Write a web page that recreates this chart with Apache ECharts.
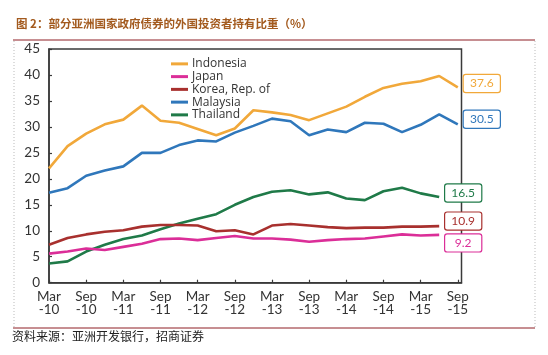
<!DOCTYPE html>
<html>
<head>
<meta charset="utf-8">
<script src="https://cdn.jsdelivr.net/npm/echarts@6/dist/echarts.min.js"></script>
<style>
html,body{margin:0;padding:0;background:#fff;}
#chart{width:548px;height:355px;}
</style>
</head>
<body>
<div id="chart"></div>
<script>
// Quarterly categories (x positions are their indices)
const quarters = ['Mar-10','Jun-10','Sep-10','Dec-10','Mar-11','Jun-11','Sep-11','Dec-11','Mar-12','Jun-12','Sep-12','Dec-12','Mar-13','Jun-13','Sep-13','Dec-13','Mar-14','Jun-14','Sep-14','Dec-14','Mar-15','Jun-15','Sep-15'];
const tickLabels = ['Mar\n-10','Sep\n-10','Mar\n-11','Sep\n-11','Mar\n-12','Sep\n-12','Mar\n-13','Sep\n-13','Mar\n-14','Sep\n-14','Mar\n-15','Sep\n-15'];
const yTicks = [0,5,10,15,20,25,30,35,40,45];

const indonesia = [22.0, 26.3, 28.7, 30.5, 31.4, 34.1, 31.2, 30.8, 29.6, 28.4, 29.7, 33.2, 32.8, 32.3, 31.3, 32.6, 33.9, 35.8, 37.5, 38.3, 38.8, 39.8, 37.6];
const japan     = [5.6, 6.0, 6.6, 6.3, 6.9, 7.5, 8.4, 8.5, 8.2, 8.6, 9.0, 8.5, 8.5, 8.3, 7.9, 8.2, 8.4, 8.5, 8.9, 9.3, 9.1, 9.2];
const korea     = [7.3, 8.6, 9.3, 9.8, 10.1, 10.8, 11.1, 11.1, 11.0, 9.9, 10.1, 9.3, 11.0, 11.3, 11.0, 10.7, 10.5, 10.6, 10.6, 10.8, 10.8, 10.9];
const malaysia  = [17.3, 18.2, 20.6, 21.6, 22.4, 25.0, 25.0, 26.5, 27.4, 27.2, 28.9, 30.2, 31.6, 31.1, 28.4, 29.5, 29.0, 30.8, 30.6, 29.0, 30.4, 32.4, 30.5];
const thailand  = [3.7, 4.1, 6.0, 7.3, 8.4, 9.1, 10.3, 11.4, 12.3, 13.2, 15.0, 16.5, 17.5, 17.8, 17.0, 17.4, 16.2, 15.9, 17.6, 18.3, 17.2, 16.5];

const seriesNames = ['Indonesia','Japan','Korea, Rep. of','Malaysia','Thailand'];
const seriesColors = ['#F1A83A','#DB2E98','#A8302E','#2F77BB','#1F7A48'];
const seriesData = [indonesia, japan, korea, malaysia, thailand];
const labelOffsets = [[18,-4],[18,8],[18,-5],[18,-5],[18,-4]];

const font = 'Lato, "Open Sans", sans-serif';

const chart = echarts.init(document.getElementById('chart'), null, {renderer:'canvas'});

const series = seriesData.map((arr, k) => ({
  name: seriesNames[k],
  type: 'line',
  data: arr.map((v, i) => [i, v]),
  showSymbol: false,
  symbol: 'none',
  lineStyle: {color: seriesColors[k], width: 2.6},
  itemStyle: {color: seriesColors[k]},
  z: 10 - k,
  endLabel: {
    show: true,
    distance: 6,
    align: 'center',
    offset: labelOffsets[k],
    formatter: p => p.value[1].toFixed(1),
    color: seriesColors[k],
    fontFamily: font,
    fontSize: 12,
    width: 26,
    backgroundColor: '#fff',
    borderColor: seriesColors[k],
    borderWidth: 1.2,
    borderRadius: 2,
    padding: [3,5,2,5]
  }
}));

chart.setOption({
  animation: false,
  backgroundColor: '#fff',
  title: {
    text: '图 2：部分亚洲国家政府债券的外国投资者持有比重（%）',
    left: 11, top: 13,
    textStyle: {fontFamily: '"Noto Sans CJK SC", sans-serif', fontSize: 11.5, fontWeight: 'bold', color: '#A35A1E'}
  },
  grid: {
    left: 49, top: 49, right: 86.5, bottom: 72.3,
    show: true, borderColor: '#3a3a3a', borderWidth: 1.5, backgroundColor: 'transparent'
  },
  legend: {
    orient: 'vertical',
    left: 166, top: 52.5,
    itemWidth: 17, itemHeight: 3, itemGap: 0,
    icon: 'rect',
    textStyle: {fontFamily: '"Open Sans", sans-serif', fontSize: 12, color: '#333', lineHeight: 12.75, padding: [0,0,0,-1]},
    data: seriesNames
  },
  xAxis: {
    type: 'value',
    min: 0, max: 22.2, interval: 2,
    axisLine: {show: true, lineStyle: {color: '#3a3a3a', width: 1.5}},
    axisTick: {show: true, inside: true, length: 3, lineStyle: {color: '#3a3a3a', width: 1.2}},
    splitLine: {show: false},
    axisLabel: {
      margin: 8, fontFamily: font, fontSize: 13.5, color: '#333', lineHeight: 12.5,
      showMaxLabel: false,
      formatter: v => (Number.isInteger(v) && v % 2 === 0 && tickLabels[v/2] !== undefined) ? tickLabels[v/2] : ''
    }
  },
  yAxis: {
    type: 'value',
    min: 0, max: 45, interval: 5,
    axisLine: {show: true, lineStyle: {color: '#3a3a3a', width: 1.5}},
    axisTick: {show: true, inside: true, length: 3, lineStyle: {color: '#3a3a3a', width: 1.2}},
    splitLine: {show: false},
    axisLabel: {margin: 9, fontFamily: font, fontSize: 13.5, color: '#333',
      formatter: v => yTicks.indexOf(v) >= 0 ? String(v) : ''}
  },
  graphic: [
    {type: 'line', shape: {x1: 13, y1: 40, x2: 535, y2: 40}, style: {stroke: '#8E1F24', lineWidth: 1}},
    {type: 'line', shape: {x1: 13, y1: 328, x2: 535, y2: 328}, style: {stroke: '#8E1F24', lineWidth: 1}},
    {type: 'line', shape: {x1: 14, y1: 41, x2: 14, y2: 327}, style: {stroke: '#bbbbbb', lineWidth: 1, lineDash: [1,2]}},
    {type: 'line', shape: {x1: 535, y1: 41, x2: 535, y2: 327}, style: {stroke: '#bbbbbb', lineWidth: 1, lineDash: [1,2]}},
    {type: 'text', left: 12, top: 330, style: {text: '资料来源：亚洲开发银行，招商证券', font: '12px "Noto Sans CJK SC", sans-serif', fill: '#222'}}
  ],
  series: series
});
</script>
</body>
</html>
